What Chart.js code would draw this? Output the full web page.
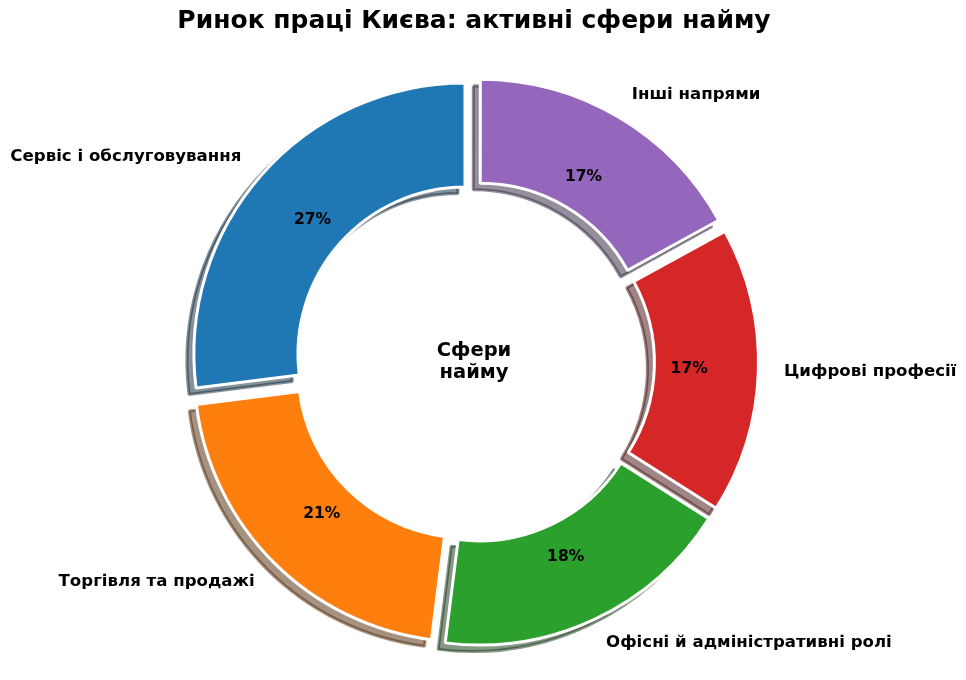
<!DOCTYPE html>
<html>
<head>
<meta charset="utf-8">
<script src="https://cdn.jsdelivr.net/npm/chart.js@4.4.1/dist/chart.umd.min.js"></script>
<style>
  html, body { margin: 0; padding: 0; background: #ffffff; }
  #wrap { width: 966px; height: 680px; position: relative; }
</style>
</head>
<body>
<div id="wrap"><canvas id="c"></canvas></div>
<script>
const chartTitle = 'Ринок праці Києва: активні сфери найму';
const centerLines = ['Сфери', 'найму'];
const categories = ['Сервіс і обслуговування', 'Торгівля та продажі', 'Офісні й адміністративні ролі', 'Цифрові професії', 'Інші напрями'];
const shares = [27, 21, 18, 17, 17];
const colors = ['#1f77b4', '#ff7f0e', '#2ca02c', '#d62728', '#9467bd'];

// matplotlib draws counter-clockwise from the top; Chart.js goes clockwise, so reverse
const cwLabels = categories.slice().reverse();
const cwValues = shares.slice().reverse();
const cwColors = colors.slice().reverse();

const FONT = "'DejaVu Sans', 'Noto Sans', sans-serif";
const SHADOW_DX = 7, SHADOW_DY = 6.5;

function hexToRgb(h) {
  const n = parseInt(h.slice(1), 16);
  return { r: (n >> 16) & 255, g: (n >> 8) & 255, b: n & 255 };
}

const shadowPlugin = {
  id: 'pieShadow',
  beforeDatasetsDraw(chart) {
    const ctx = chart.ctx;
    const meta = chart.getDatasetMeta(0);
    meta.data.forEach((arc) => {
      const base = arc.options;
      const c = hexToRgb(base.backgroundColor);
      const sc = 'rgba(' + Math.round(c.r * 0.3) + ',' + Math.round(c.g * 0.3) + ',' + Math.round(c.b * 0.3) + ',0.5)';
      ctx.save();
      ctx.translate(-SHADOW_DX, SHADOW_DY);
      arc.options = Object.assign({}, base, { backgroundColor: sc, borderColor: sc });
      arc.draw(ctx);
      arc.options = base;
      ctx.restore();
    });
  }
};

const labelPlugin = {
  id: 'pieLabels',
  afterDatasetsDraw(chart) {
    const ctx = chart.ctx;
    const meta = chart.getDatasetMeta(0);
    const vals = chart.data.datasets[0].data;
    const total = vals.reduce((a, b) => a + b, 0);
    ctx.save();
    ctx.fillStyle = '#000';
    ctx.textBaseline = 'middle';
    meta.data.forEach((arc, i) => {
      const p = arc.getProps(['x', 'y', 'startAngle', 'endAngle', 'outerRadius'], true);
      const mid = (p.startAngle + p.endAngle) / 2;
      const t = (arc.options.offset || 0) / 4;
      const cx = Math.cos(mid), cy = Math.sin(mid);
      // outer category label (labeldistance 1.1)
      const lr = t + 1.1 * p.outerRadius;
      ctx.font = 'bold 16.6px ' + FONT;
      ctx.textAlign = cx > 0 ? 'left' : 'right';
      ctx.fillText(chart.data.labels[i], p.x + cx * lr, p.y + cy * lr);
      // percent label (pctdistance 0.75)
      const pr = t + 0.75 * p.outerRadius;
      ctx.font = 'bold 15.5px ' + FONT;
      ctx.textAlign = 'center';
      ctx.fillText(Math.round(vals[i] / total * 100) + '%', p.x + cx * pr, p.y + cy * pr);
    });
    // centre text
    const a0 = meta.data[0];
    ctx.font = 'bold 19.5px ' + FONT;
    ctx.textAlign = 'center';
    ctx.fillText(centerLines[0], a0.x, a0.y - 11);
    ctx.fillText(centerLines[1], a0.x, a0.y + 11);
    ctx.restore();
  }
};

new Chart(document.getElementById('c'), {
  type: 'doughnut',
  data: {
    labels: cwLabels,
    datasets: [{
      data: cwValues,
      backgroundColor: cwColors,
      borderColor: '#ffffff',
      borderWidth: 3,
      offset: 48,
      hoverOffset: 0
    }]
  },
  options: {
    responsive: true,
    maintainAspectRatio: false,
    animation: false,
    events: [],
    rotation: 0,
    radius: 271,
    cutout: '61.6%',
    layout: { padding: { top: 0, bottom: 0, left: 0, right: 18 } },
    plugins: {
      legend: { display: false },
      tooltip: { enabled: false },
      title: {
        display: true,
        text: chartTitle,
        color: '#000',
        font: { family: FONT, size: 25, weight: 'bold' },
        padding: { top: 6, bottom: 8 }
      }
    }
  },
  plugins: [shadowPlugin, labelPlugin]
});
</script>
</body>
</html>
